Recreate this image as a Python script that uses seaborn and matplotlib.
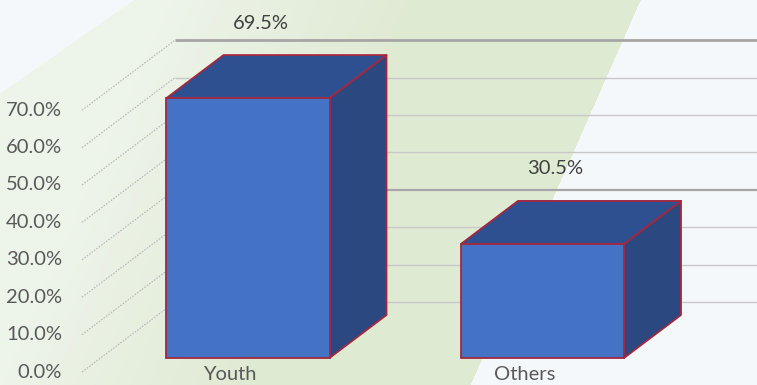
import numpy as np
import pandas as pd
import matplotlib
matplotlib.use("Agg")
import matplotlib.pyplot as plt
from matplotlib.patches import Polygon
import seaborn as sns

# ---- data ----
categories = ["Youth", "Others"]
values = [69.5, 30.5]
value_labels = ["69.5%", "30.5%"]
y_ticks = [0, 10, 20, 30, 40, 50, 60, 70]
y_tick_labels = ["0.0%", "10.0%", "20.0%", "30.0%", "40.0%", "50.0%", "60.0%", "70.0%"]

W_PX, H_PX = 757, 385
sns.set_theme(style="white")
plt.rcParams["font.family"] = ["Lato", "DejaVu Sans"]
FW = "normal"

fig = plt.figure(figsize=(W_PX / 100, H_PX / 100), dpi=100)

# ---- background (decorative gradient band) ----
yy, xx = np.mgrid[0:H_PX, 0:W_PX].astype(float)
base = np.array([0.961, 0.973, 0.988])
pale = np.array([0.930, 0.957, 0.915])
green = np.array([0.878, 0.918, 0.830])
xr = 640 - 170 * yy / H_PX
inband = (xx <= xr) & (yy + 0.70 * xx >= 93)
s = np.clip((xx - (xr - 470)) / 240, 0, 1)
col = pale[None, None, :] * (1 - s[..., None]) + green[None, None, :] * s[..., None]
img = np.where(inband[..., None], col, base[None, None, :])
bgax = fig.add_axes([0, 0, 1, 1], zorder=0)
bgax.imshow(img, extent=[0, W_PX, H_PX, 0], aspect="auto", interpolation="bilinear")
bgax.axis("off")

# ---- main axes, mapped so the front bar plane lines up ----
PX_X = 294.5         # pixels per category unit
PX_Y = 3.74          # pixels per percent
X0_PX, Y0_PX = 248, 358
ax = fig.add_axes([0, 0, 1, 1], zorder=1)
ax.patch.set_alpha(0)

df = pd.DataFrame({"cat": categories, "val": values})
sns.barplot(data=df, x="cat", y="val", ax=ax, width=163 / PX_X, color="#4472C4",
            saturation=1, edgecolor="#A3283F", linewidth=1.3, zorder=3)

ax.set_xlim(-X0_PX / PX_X, (W_PX - X0_PX) / PX_X)
ax.set_ylim(-(H_PX - Y0_PX) / PX_Y, Y0_PX / PX_Y)
ax.axis("off")

def dx(px):
    return px / PX_X

def dy(px):
    return px / PX_Y

# back wall gridlines
wall_dx, wall_dy = dx(175 - 248), dy(56)
for v in y_ticks:
    if v == 70:
        c, lw = "#A6A6A6", 2.0
    elif v == 30:
        c, lw = "#A6A6A6", 1.6
    else:
        c, lw = "#C8C8C8", 1.0
    ax.plot([wall_dx, ax.get_xlim()[1]], [v + wall_dy, v + wall_dy], color=c, lw=lw, zorder=1,
            solid_capstyle="butt")

# side wall dashed lines
for v in y_ticks:
    ax.plot([dx(82 - 248), dx(175 - 248)], [v - dy(14), v + dy(56)], color="#B8B8B8",
            lw=0.8, ls=(0, (1.5, 1.2)), zorder=1)

# y tick labels on the front edge of the side wall
for v, lab in zip(y_ticks, y_tick_labels):
    ax.text(dx(62 - 248), v - dy(14), lab, ha="right", va="center", fontsize=14.5,
            color="#595959", fontweight=FW)

# 3D faces for the bars
ddx, ddy = dx(57), dy(43)
for p, lab, cat in zip(ax.patches, value_labels, categories):
    x0, w, h = p.get_x(), p.get_width(), p.get_height()
    top = [(x0, h), (x0 + w, h), (x0 + w + ddx, h + ddy), (x0 + ddx, h + ddy)]
    side = [(x0 + w, 0), (x0 + w + ddx, ddy), (x0 + w + ddx, h + ddy), (x0 + w, h)]
    ax.add_patch(Polygon(side, closed=True, facecolor="#2B4880", edgecolor="#A3283F",
                         lw=1.3, zorder=2.9, joinstyle="round"))
    ax.add_patch(Polygon(top, closed=True, facecolor="#2F5090", edgecolor="#A3283F",
                         lw=1.3, zorder=2.9, joinstyle="round"))
    cx = x0 + w / 2
    ax.annotate(lab, (cx, h), xytext=(13 * 0.72, 75 * 0.72), textcoords="offset points",
                ha="center", va="center", fontsize=14.5, color="#404040", fontweight=FW)
    ax.text(cx - dx(18), -dy(17), cat, ha="center", va="center", fontsize=14.5,
            color="#595959", fontweight=FW)

fig.savefig("out.png", dpi=100)
